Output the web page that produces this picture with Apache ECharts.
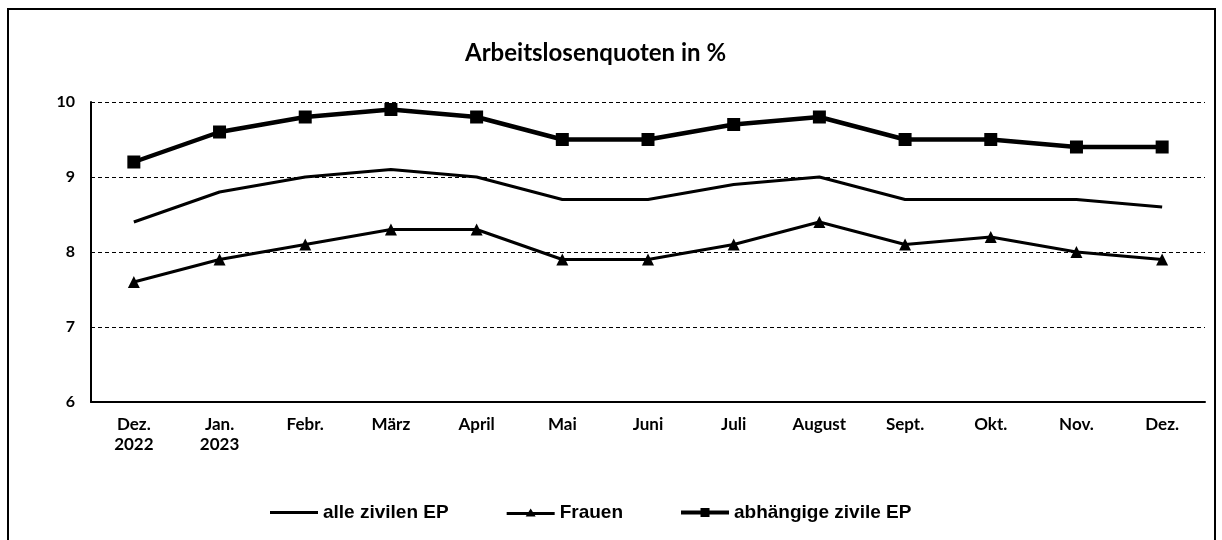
<!DOCTYPE html>
<html><head><meta charset="utf-8">
<script src="https://cdn.jsdelivr.net/npm/echarts@6/dist/echarts.min.js"></script>
<style>html,body{margin:0;padding:0;background:#fff}#c{width:1222px;height:540px}</style>
</head><body><div id="c"></div>
<script>
const categories = ['Dez.\n2022','Jan.\n2023','Febr.','März','April','Mai','Juni','Juli','August','Sept.','Okt.','Nov.','Dez.'];
const alleZivilen = [8.4, 8.8, 9.0, 9.1, 9.0, 8.7, 8.7, 8.9, 9.0, 8.7, 8.7, 8.7, 8.6];
const frauen = [7.6, 7.9, 8.1, 8.3, 8.3, 7.9, 7.9, 8.1, 8.4, 8.1, 8.2, 8.0, 7.9];
const abhaengige = [9.2, 9.6, 9.8, 9.9, 9.8, 9.5, 9.5, 9.7, 9.8, 9.5, 9.5, 9.4, 9.4];
const yTicks = [6, 7, 8, 9, 10];

const iconLine = 'path://M0,0 H48 V3 H0 Z';
const iconTri = 'path://M0,3.5 H48 V6.5 H0 Z M19,8 L24,0 L29,8 Z';
const iconSq = 'path://M0,3 H48 V7 H0 Z M19.5,0.5 H28.5 V9.5 H19.5 Z';

const chart = echarts.init(document.getElementById('c'), null, {renderer: 'canvas'});
chart.setOption({
  backgroundColor: '#fff',
  animation: false,
  title: {
    text: 'Arbeitslosenquoten in %',
    left: 460, top: 36,
    textStyle: {fontFamily: 'Lato', fontWeight: 'bold', fontSize: 24, color: '#000'}
  },
  graphic: [{
    type: 'rect', silent: true,
    shape: {x: 8, y: 9, width: 1207, height: 560},
    style: {fill: 'none', stroke: '#000', lineWidth: 2}
  }],
  legend: {
    top: 498, left: 265,
    itemWidth: 48, itemHeight: 12, itemGap: 58, symbolKeepAspect: true,
    textStyle: {fontFamily: 'Liberation Sans', fontWeight: 'bold', fontSize: 19, color: '#000', padding: [0,0,0,0]},
    data: [
      {name: 'alle zivilen EP', icon: iconLine},
      {name: 'Frauen', icon: iconTri},
      {name: 'abhängige zivile EP', icon: iconSq}
    ]
  },
  grid: {left: 91, right: 17, top: 102, bottom: 138, containLabel: false},
  xAxis: {
    type: 'category', data: categories, boundaryGap: true,
    axisLine: {lineStyle: {color: '#000', width: 2}},
    axisTick: {show: false},
    axisLabel: {fontFamily: 'Lato', fontWeight: 'bold', fontSize: 17, color: '#000', margin: 13, lineHeight: 20, interval: 0}
  },
  yAxis: {
    type: 'value', min: yTicks[0], max: yTicks[yTicks.length-1], interval: 1,
    axisLine: {show: true, lineStyle: {color: '#000', width: 2}},
    axisTick: {show: false},
    axisLabel: {fontFamily: 'Lato', fontWeight: 'bold', fontSize: 16, color: '#000', margin: 16},
    splitLine: {lineStyle: {color: '#000', type: [4, 3], width: 1}}
  },
  series: [
    {name: 'alle zivilen EP', type: 'line', data: alleZivilen, symbol: 'none',
     lineStyle: {color: '#000', width: 3}, itemStyle: {color: '#000'}},
    {name: 'Frauen', type: 'line', data: frauen, symbol: 'triangle', symbolSize: 12,
     lineStyle: {color: '#000', width: 3}, itemStyle: {color: '#000'}},
    {name: 'abhängige zivile EP', type: 'line', data: abhaengige, symbol: 'rect', symbolSize: 13,
     lineStyle: {color: '#000', width: 4.5}, itemStyle: {color: '#000'}}
  ]
});
</script></body></html>
